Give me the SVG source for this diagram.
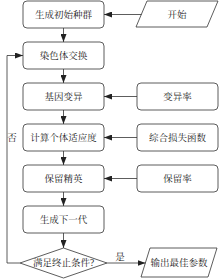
<svg xmlns="http://www.w3.org/2000/svg" width="220" height="279" viewBox="0 0 220 279">
<defs>
<marker id="ah" viewBox="0 0 8 6" refX="8" refY="3" markerWidth="8" markerHeight="6" markerUnits="userSpaceOnUse" orient="auto">
<path d="M0,0 L8,3 L0,6 Z" fill="#222"/>
</marker>
<style>
.b{fill:#fff;stroke:#333;stroke-width:0.8}
.t{font-family:"Liberation Serif","Noto Serif CJK SC","Noto Sans CJK SC",serif;font-size:9.5px;fill:#222;text-anchor:middle;dominant-baseline:central}
.c{fill:none;stroke:#333;stroke-width:0.8;marker-end:url(#ah)}
</style>
</defs>
<rect width="220" height="279" fill="#fff"/>
<g id="n1"><rect class="b" x="23" y="1" width="81" height="27" rx="4"/><text class="t" x="63.5" y="14.5">生成初始种群</text></g>
<g id="start"><polygon class="b" points="147,1 218,1 207,27 136,27"/><text class="t" x="177" y="14.5">开始</text></g>
<g id="n2"><rect class="b" x="23" y="42" width="81" height="27" rx="4"/><text class="t" x="63.5" y="55.5">染色体交换</text></g>
<g id="n3"><rect class="b" x="23" y="83" width="81" height="27" rx="4"/><text class="t" x="63.5" y="96.5">基因变异</text></g>
<g id="r3"><rect class="b" x="137" y="83" width="81" height="27" rx="4"/><text class="t" x="177.5" y="96.5">变异率</text></g>
<g id="n4"><rect class="b" x="23" y="124" width="81" height="27" rx="4"/><text class="t" x="63.5" y="137.5">计算个体适应度</text></g>
<g id="r4"><rect class="b" x="137" y="124" width="81" height="27" rx="4"/><text class="t" x="177.5" y="137.5">综合损失函数</text></g>
<g id="n5"><rect class="b" x="23" y="165" width="81" height="27" rx="4"/><text class="t" x="63.5" y="178.5">保留精英</text></g>
<g id="r5"><rect class="b" x="137" y="165" width="81" height="27" rx="4"/><text class="t" x="177.5" y="178.5">保留率</text></g>
<g id="n6"><rect class="b" x="23" y="206" width="81" height="27" rx="4"/><text class="t" x="63.5" y="219.5">生成下一代</text></g>
<g id="d"><polygon class="b" points="63.5,248 107,263 63.5,278 20,263"/><text class="t" x="63.5" y="263">满足终止条件?</text></g>
<g id="out"><polygon class="b" points="150,248 217,248 208,277 141,277"/><text class="t" x="179" y="262.5">输出最佳参数</text></g>
<g id="connectors">
<path class="c" d="M141.5,14.5 H104"/>
<path class="c" d="M63.5,28 V42"/>
<path class="c" d="M63.5,69 V83"/>
<path class="c" d="M137,96.5 H104"/>
<path class="c" d="M63.5,110 V124"/>
<path class="c" d="M137,137.5 H104"/>
<path class="c" d="M63.5,151 V165"/>
<path class="c" d="M137,178.5 H104"/>
<path class="c" d="M63.5,192 V206"/>
<path class="c" d="M63.5,233 V248"/>
<path class="c" d="M107,263 H145.5"/>
<path class="c" d="M20,263 H7 V55.5 H23"/>
<text class="t" x="120" y="257">是</text>
<text class="t" x="12" y="138">否</text>
</g>
</svg>
